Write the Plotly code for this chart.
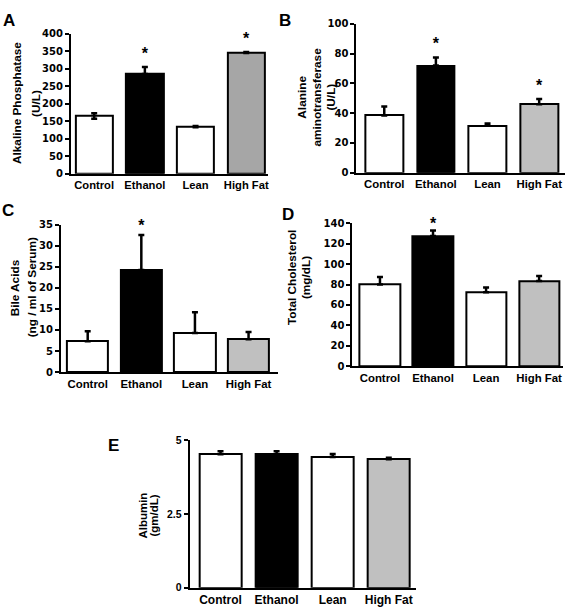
import plotly.graph_objects as go

categories = ["Control", "Ethanol", "Lean", "High Fat"]

alp_vals = [165, 285, 133, 345]
alp_err = [8, 20, 3, 3]
alp_err_minus = [8, 0, 0, 0]
alp_star = [False, True, False, True]

alt_vals = [38.5, 72, 31.5, 46]
alt_err = [6, 5.5, 1.5, 3.5]
alt_star = [False, True, False, True]

bile_vals = [7.3, 24.3, 9.3, 7.8]
bile_err = [2.4, 8.3, 4.9, 1.7]
bile_star = [False, True, False, False]

chol_vals = [80, 127.5, 72.5, 83.5]
chol_err = [7.5, 5.5, 4.5, 5]
chol_star = [False, True, False, False]

alb_vals = [4.52, 4.52, 4.43, 4.35]
alb_err = [0.1, 0.1, 0.1, 0.05]
alb_star = [False, False, False, False]

W, H = 567, 615
FONT = "Liberation Sans, Arial, sans-serif"
TICKFONT_WIDE = "DejaVu Sans, sans-serif"

panels = [
    dict(vals=alp_vals, err=alp_err, errm=alp_err_minus, star=alp_star, hf="#a6a6a6",
         xpx=(71, 268), ypx=(28.3, 171), yr=[0, 400], xr=[-0.46, 3.42], bw=0.74,
         ticks=[0, 50, 100, 150, 200, 250, 300, 350, 400],
         tf=TICKFONT_WIDE, ts=10, cs=11.2, ttl=11.8,
         title=["Alkaline Phosphatase", "(U/L)"], tx=[17, 36], ty=99,
         letter="A", lx=1, ly=3, staroff=12),
    dict(vals=alt_vals, err=alt_err, errm=None, star=alt_star, hf="#c0c0c0",
         xpx=(357, 566), ypx=(18.3, 170), yr=[0, 100], xr=[-0.54, 3.50], bw=0.73,
         ticks=[0, 20, 40, 60, 80, 100],
         tf=TICKFONT_WIDE, ts=10, cs=11.4, ttl=11.8,
         title=["Alanine", "aminotransferase", "(U/L)"], tx=[303, 318, 332], ty=93,
         letter="B", lx=277, ly=3, staroff=3),
    dict(vals=bile_vals, err=bile_err, errm=None, star=bile_star, hf="#c0c0c0",
         xpx=(61, 278), ypx=(223.3, 373.3), yr=[0, 35], xr=[-0.50, 3.54], bw=0.77,
         ticks=[0, 5, 10, 15, 20, 25, 30, 35],
         tf=TICKFONT_WIDE, ts=10, cs=11.4, ttl=11.8,
         title=["Bile Acids", "(ng / ml of Serum)"], tx=[15, 32], ty=287,
         letter="C", lx=0, ly=197, staroff=0),
    dict(vals=chol_vals, err=chol_err, errm=None, star=chol_star, hf="#c0c0c0",
         xpx=(353, 564), ypx=(221.7, 367.3), yr=[0, 140], xr=[-0.52, 3.45], bw=0.76,
         ticks=[0, 20, 40, 60, 80, 100, 120, 140],
         tf=TICKFONT_WIDE, ts=10, cs=11.4, ttl=11.8,
         title=["Total Cholesterol", "(mg/dL)"], tx=[292, 306], ty=277,
         letter="D", lx=280, ly=201, staroff=-2),
    dict(vals=alb_vals, err=alb_err, errm=None, star=alb_star, hf="#c0c0c0",
         xpx=(190, 417), ypx=(442.7, 593.3), yr=[0, 5], xr=[-0.55, 3.49], bw=0.75,
         ticks=[0, 2.5, 5],
         tf=FONT, ts=10.5, cs=12, ttl=11.5,
         title=["Albumin", "(gm/dL)"], tx=[143, 154], ty=520,
         letter="E", lx=106, ly=437, staroff=0.2),
]

fig = go.Figure()
annotations = []
layout = {}

for i, p in enumerate(panels, start=1):
    xa = "x" if i == 1 else f"x{i}"
    ya = "y" if i == 1 else f"y{i}"
    xkey = "xaxis" if i == 1 else f"xaxis{i}"
    ykey = "yaxis" if i == 1 else f"yaxis{i}"
    colors = ["#ffffff", "#000000", "#ffffff", p["hf"]]
    errm = p["errm"] if p["errm"] is not None else [0] * 4
    fig.add_trace(go.Bar(
        x=list(range(4)), y=p["vals"], width=p["bw"],
        marker=dict(color=colors, line=dict(color="black", width=2)),
        error_y=dict(type="data", array=p["err"], arrayminus=errm, symmetric=False,
                     color="black", thickness=2.5, width=3),
        xaxis=xa, yaxis=ya, showlegend=False, hoverinfo="skip",
    ))
    sx = [j for j in range(4) if p["star"][j]]
    sy = [p["vals"][j] + p["err"][j] + p["staroff"] for j in sx]
    if sx:
        fig.add_trace(go.Scatter(
            x=sx, y=sy, mode="text", text=["*"] * len(sx), textposition="top center",
            textfont=dict(family=FONT, size=16, color="black", weight="bold"),
            xaxis=xa, yaxis=ya, showlegend=False, hoverinfo="skip", cliponaxis=False,
        ))
    x0, x1 = p["xpx"]
    yt, yb = p["ypx"]
    layout[xkey] = dict(
        domain=[x0 / W, x1 / W], range=p["xr"], anchor=ya,
        tickmode="array", tickvals=list(range(4)), ticktext=categories,
        showline=True, linecolor="black", linewidth=2, ticks="",
        showgrid=False, zeroline=False, fixedrange=True,
        tickfont=dict(family=FONT, size=p["cs"], color="black", weight="bold"),
    )
    layout[ykey] = dict(
        domain=[1 - yb / H, 1 - yt / H], range=p["yr"], anchor=xa,
        tickmode="array", tickvals=p["ticks"],
        showline=True, linecolor="black", linewidth=2,
        ticks="outside", ticklen=4, tickwidth=2, tickcolor="black",
        showgrid=False, zeroline=False, fixedrange=True,
        tickfont=dict(family=p["tf"], size=p["ts"], color="black", weight="bold"),
    )
    for line, tx in zip(p["title"], p["tx"]):
        annotations.append(dict(
            text=line, x=tx / W, y=1 - p["ty"] / H, xref="paper", yref="paper",
            xanchor="center", yanchor="middle", textangle=-90, showarrow=False,
            font=dict(family=FONT, size=p["ttl"], color="black", weight="bold"),
        ))
    annotations.append(dict(
        text=p["letter"], x=p["lx"] / W, y=1 - p["ly"] / H, xref="paper", yref="paper",
        xanchor="left", yanchor="top", showarrow=False,
        font=dict(family=FONT, size=17, color="black", weight="bold"),
    ))

fig.update_layout(
    width=W, height=H, margin=dict(l=0, r=0, t=0, b=0),
    paper_bgcolor="white", plot_bgcolor="white",
    annotations=annotations, bargap=0, **layout,
)

fig.write_html(
    "out.html",
    config={"displayModeBar": False},
    post_script="document.body.style.margin='0';document.body.style.overflow='hidden';",
)
